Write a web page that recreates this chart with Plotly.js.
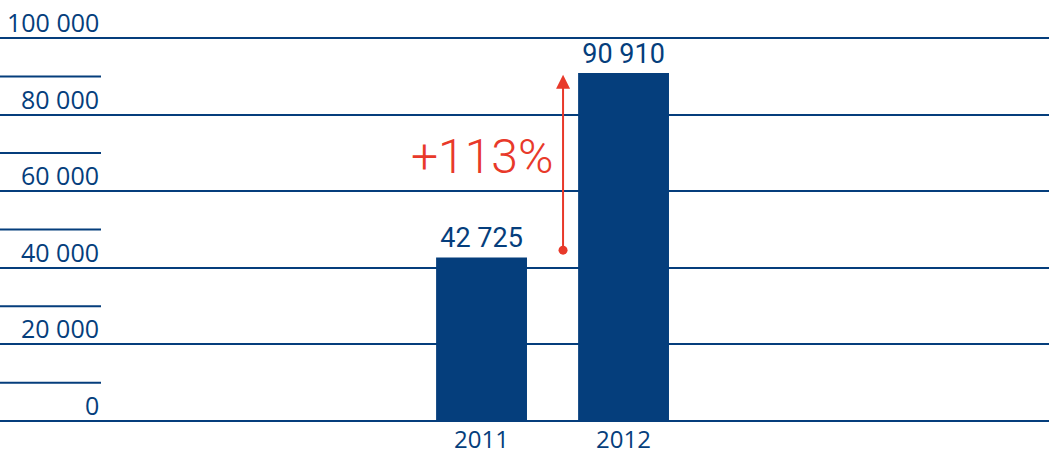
<!DOCTYPE html>
<html>
<head>
<meta charset="utf-8">
<script src="https://cdn.plot.ly/plotly-3.0.1.min.js"></script>
<style>html,body{margin:0;padding:0;background:#fff;}#chart{width:1049px;height:458px;}</style>
</head>
<body>
<div id="chart"></div>
<script>
// Data
const years = [2011, 2012];
const yearLabels = ['2011', '2012'];
const values = [42725, 90910];
const majorTicks = [0, 20000, 40000, 60000, 80000, 100000];
const majorTickLabels = ['0', '20 000', '40 000', '60 000', '80 000', '100 000'];
const minorTicks = [10000, 30000, 50000, 70000, 90000];
const growthLabel = '+113%';

const BLUE = '#053e7c';
const RED = '#e8392a';

const bars = {
  type: 'bar',
  x: years,
  y: values,
  width: 0.64,
  marker: {color: BLUE},
  texttemplate: '%{y:,}',
  textposition: 'outside',
  cliponaxis: false,
  outsidetextfont: {family: 'Roboto, sans-serif', size: 27, color: BLUE},
  hoverinfo: 'x+y'
};

const arrowX = years[0] + 0.574;
const dot = {
  type: 'scatter',
  mode: 'markers',
  x: [arrowX],
  y: [values[0] + 1900],
  marker: {color: RED, size: 9},
  hoverinfo: 'skip',
  cliponaxis: false
};

const shapes = minorTicks.map(v => ({
  type: 'line', xref: 'paper', yref: 'y',
  x0: 0, x1: 101/1049, y0: v, y1: v,
  line: {color: BLUE, width: 2}
}));

const annotations = majorTicks.map((v, i) => ({
  xref: 'paper', yref: 'y', x: 101/1049, y: v,
  xanchor: 'right', yanchor: 'bottom', yshift: -3,
  text: majorTickLabels[i], showarrow: false,
  font: {family: 'Open Sans, sans-serif', size: 25, color: BLUE}
}));

annotations.push({
  xref: 'x', yref: 'y', axref: 'x', ayref: 'y',
  x: arrowX, y: values[1] - 500,
  ax: arrowX, ay: values[0] + 1900,
  showarrow: true, arrowhead: 2, arrowsize: 1.4, arrowwidth: 2, arrowcolor: RED,
  text: ''
});
annotations.push({
  xref: 'x', yref: 'y', x: years[0] + 0.005, y: 69000,
  xanchor: 'center', yanchor: 'middle',
  text: growthLabel, showarrow: false,
  font: {family: 'Roboto, sans-serif', size: 48, weight: 300, color: RED}
});

const layout = {
  width: 1049, height: 458,
  margin: {l: 0, r: 0, t: 19, b: 37, pad: 0},
  paper_bgcolor: '#fff', plot_bgcolor: '#fff',
  separators: ', ',
  showlegend: false,
  xaxis: {
    range: [2007.609, 2014.996],
    tickvals: years, ticktext: yearLabels,
    showgrid: false, zeroline: false, showline: false, ticks: '',
    tickfont: {family: 'Open Sans, sans-serif', size: 24, color: BLUE},
    ticklabelstandoff: 2,
    fixedrange: true
  },
  yaxis: {
    range: [0, 105000],
    tickvals: majorTicks,
    showticklabels: false,
    showgrid: true, gridcolor: BLUE, gridwidth: 2,
    zeroline: true, zerolinecolor: BLUE, zerolinewidth: 2,
    showline: false, ticks: '',
    fixedrange: true
  },
  shapes: shapes,
  annotations: annotations
};

Plotly.newPlot('chart', [bars, dot], layout, {displayModeBar: false, staticPlot: true});
</script>
</body>
</html>
